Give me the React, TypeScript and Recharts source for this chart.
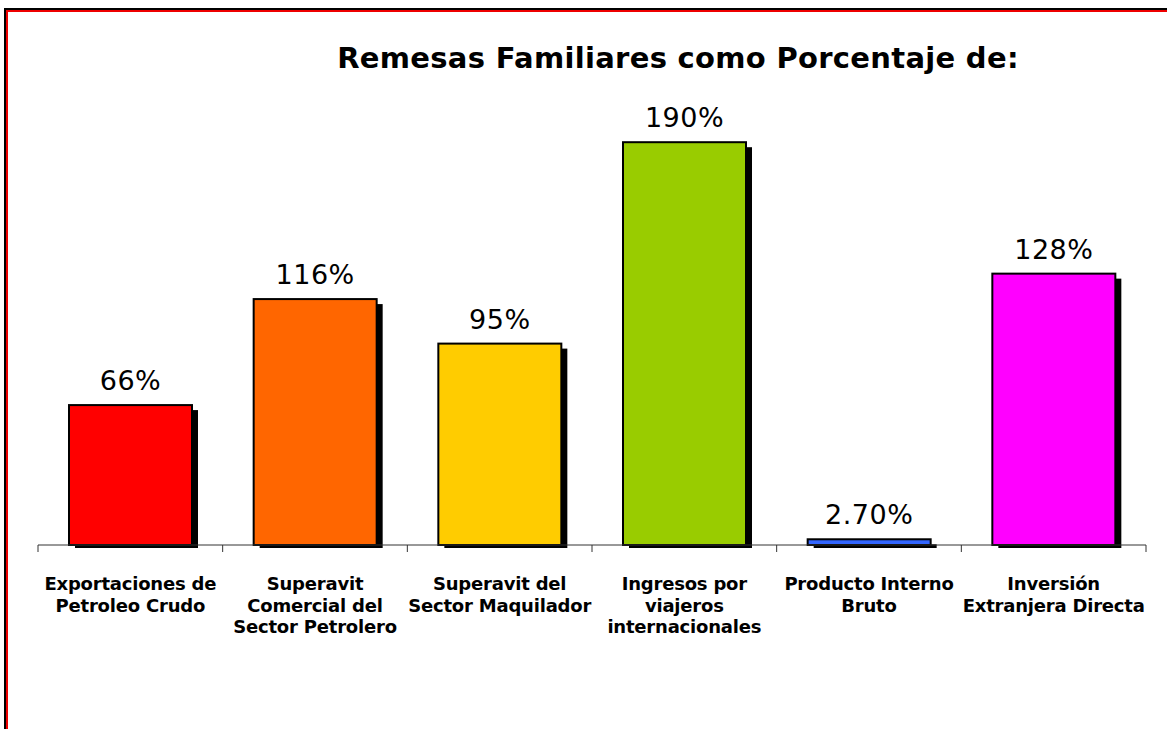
import { BarChart, Bar, XAxis, YAxis, Cell, LabelList } from 'recharts';

const categories = [
  ['Exportaciones de', 'Petroleo Crudo'],
  ['Superavit', 'Comercial del', 'Sector Petrolero'],
  ['Superavit del', 'Sector Maquilador'],
  ['Ingresos por', 'viajeros', 'internacionales'],
  ['Producto Interno', 'Bruto'],
  ['Inversión', 'Extranjera Directa'],
];
const values = [66, 116, 95, 190, 2.7, 128];
const valueLabels = ['66%', '116%', '95%', '190%', '2.70%', '128%'];
const colors = ['#FF0000', '#FF6600', '#FFCC00', '#99CC00', '#3366FF', '#FF00FF'];

const data = categories.map((lines, i) => ({
  name: lines.join(' '),
  lines,
  value: values[i],
  label: valueLabels[i],
}));

const W = 1167;
const H = 729;
// el eje X ocupa 30px debajo del área de trazado
const M = { top: 121, right: 21, left: 38, bottom: 154 };
const band = (W - M.left - M.right) / categories.length;

const ShadowBar = (props: any) => {
  const { x, y, width, height, fill } = props;
  return (
    <g>
      <rect x={x + 6} y={y + 5} width={width} height={Math.max(height - 2, 0)} fill="#000" />
      <rect x={x} y={y} width={width} height={height} fill={fill} stroke="#000" strokeWidth={2} />
    </g>
  );
};

const CategoryTick = (props: any) => {
  const { x, y, index } = props;
  const axisY = y - 8;
  const lines: string[] = data[index]?.lines ?? [];
  const left = x - band / 2;
  const right = x + band / 2;
  return (
    <g>
      <line x1={left} x2={left} y1={axisY} y2={axisY + 7} stroke="#333" />
      {index === data.length - 1 && <line x1={right} x2={right} y1={axisY} y2={axisY + 7} stroke="#333" />}
      <text
        x={x}
        y={y}
        textAnchor="middle"
        fontFamily="DejaVu Sans"
        fontWeight="bold"
        fontSize={18}
        letterSpacing={-0.2}
        fill="#000"
      >
        {lines.map((l, i) => (
          <tspan key={i} x={x} y={y + 37 + i * 21.5}>
            {l}
          </tspan>
        ))}
      </text>
    </g>
  );
};

const ValueLabel = (props: any) => {
  const { x, y, width, index } = props;
  return (
    <text
      x={x + width / 2}
      y={y - 15}
      textAnchor="middle"
      fontFamily="DejaVu Sans"
      fontSize={27}
      letterSpacing={0.5}
      fill="#000"
    >
      {valueLabels[index]}
    </text>
  );
};

export default function App() {
  return (
    <div style={{ position: 'absolute', left: 0, top: 0, width: W, height: H, background: '#fff', overflow: 'hidden' }}>
      {/* marco */}
      <div style={{ position: 'absolute', left: 4, top: 8, width: W, height: H, borderTop: '2px solid #000', borderLeft: '2px solid #000' }}>
        <div style={{ width: '100%', height: '100%', borderTop: '2px solid #EE0000', borderLeft: '2px solid #EE0000' }} />
      </div>
      <div
        style={{
          position: 'absolute',
          left: 0,
          width: 1356,
          top: 41,
          textAlign: 'center',
          fontFamily: 'DejaVu Sans',
          fontWeight: 'bold',
          fontSize: 29,
          letterSpacing: 0.3,
          lineHeight: '34px',
          color: '#000',
        }}
      >
        Remesas Familiares como Porcentaje de:
      </div>
      <div style={{ position: 'absolute', left: 0, top: 0 }}>
        <BarChart width={W} height={H} data={data} margin={M} barSize={123}>
          <XAxis
            dataKey="name"
            interval={0}
            tickLine={false}
            axisLine={{ stroke: '#333', strokeWidth: 1 }}
            tick={<CategoryTick />}
          />
          <YAxis hide domain={[0, 200]} />
          <Bar dataKey="value" shape={<ShadowBar />} isAnimationActive={false}>
            {data.map((d, i) => (
              <Cell key={d.name} fill={colors[i]} />
            ))}
            <LabelList dataKey="label" content={<ValueLabel />} />
          </Bar>
        </BarChart>
      </div>
    </div>
  );
}
